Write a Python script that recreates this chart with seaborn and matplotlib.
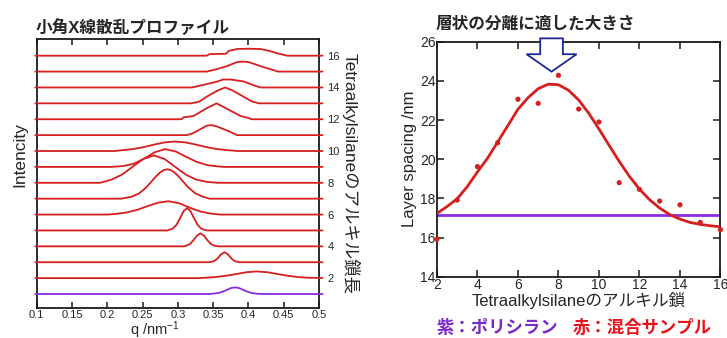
import matplotlib
matplotlib.use("Agg")
import matplotlib.pyplot as plt
import matplotlib.patches as patches
import seaborn as sns
import pandas as pd

# SAXS profiles: q knots and peak heights above each baseline (baseline = chain length)
c01_q = [0.098, 0.345, 0.357, 0.363, 0.369, 0.375, 0.381, 0.387, 0.393, 0.399, 0.405, 0.411, 0.420, 0.505]
c01_i = [0, 0, 0.06, 0.14, 0.25, 0.37, 0.42, 0.37, 0.25, 0.14, 0.06, 0.02, 0, 0]
c02_q = [0.098, 0.330, 0.337, 0.352, 0.367, 0.382, 0.397, 0.412, 0.427, 0.442, 0.457, 0.472, 0.487, 0.505]
c02_i = [0, 0, 0.02, 0.06, 0.14, 0.25, 0.37, 0.42, 0.37, 0.25, 0.14, 0.06, 0.02, 0.01]
c03_q = [0.098, 0.344, 0.351, 0.356, 0.361, 0.366, 0.371, 0.376, 0.381, 0.388, 0.505]
c03_i = [0, 0, 0.06, 0.23, 0.49, 0.63, 0.49, 0.23, 0.06, 0, 0]
c04_q = [0.098, 0.308, 0.312, 0.317, 0.322, 0.327, 0.332, 0.337, 0.342, 0.347, 0.352, 0.358, 0.505]
c04_i = [0, 0, 0.04, 0.14, 0.38, 0.67, 0.82, 0.67, 0.38, 0.14, 0.04, 0, 0]
c05_q = [0.098, 0.285, 0.293, 0.298, 0.303, 0.308, 0.313, 0.318, 0.323, 0.328, 0.333, 0.338, 0.342, 0.505]
c05_i = [0, 0, 0.12, 0.35, 0.76, 1.21, 1.41, 1.21, 0.76, 0.35, 0.12, 0.03, 0, 0]
c06_q = [0.098, 0.200, 0.212, 0.227, 0.242, 0.257, 0.272, 0.287, 0.302, 0.317, 0.332, 0.347, 0.360, 0.505]
c06_i = [0, 0, 0.04, 0.13, 0.29, 0.53, 0.75, 0.84, 0.71, 0.43, 0.19, 0.06, 0, 0]
c07_q = [0.098, 0.220, 0.235, 0.245, 0.255, 0.265, 0.270, 0.275, 0.280, 0.285, 0.290,
         0.295, 0.300, 0.305, 0.315, 0.325, 0.335, 0.345, 0.505]
c07_i = [0, 0, 0.13, 0.33, 0.70, 1.20, 1.45, 1.66, 1.80, 1.85, 1.80,
         1.66, 1.45, 1.20, 0.70, 0.33, 0.13, 0, 0]
c08_q = [0.098, 0.190, 0.206, 0.221, 0.236, 0.251, 0.266, 0.281, 0.296, 0.311, 0.326, 0.341, 0.356, 0.505]
c08_i = [0, 0, 0.20, 0.52, 1.01, 1.50, 1.72, 1.50, 1.01, 0.52, 0.20, 0.06, 0, 0]
c09_q = [0.098, 0.205, 0.222, 0.237, 0.252, 0.267, 0.282, 0.297, 0.312, 0.327, 0.342, 0.357, 0.365, 0.505]
c09_i = [0, 0, 0.05, 0.19, 0.51, 0.92, 1.12, 0.97, 0.63, 0.31, 0.11, 0.03, 0, 0]
c10_q = [0.098, 0.210, 0.221, 0.236, 0.251, 0.266, 0.281, 0.296, 0.311, 0.326, 0.341, 0.356, 0.371, 0.385, 0.505]
c10_i = [0, 0, 0.05, 0.12, 0.24, 0.40, 0.54, 0.60, 0.54, 0.40, 0.24, 0.12, 0.05, 0, 0]
c11_q = [0.098, 0.313, 0.322, 0.335, 0.341, 0.348, 0.355, 0.372, 0.384, 0.505]
c11_i = [0, 0, 0.13, 0.45, 0.60, 0.63, 0.55, 0.25, 0, 0]
c12_q = [0.098, 0.305, 0.308, 0.322, 0.341, 0.355, 0.374, 0.389, 0.400, 0.404, 0.505]
c12_i = [0, 0, 0.12, 0.20, 0.70, 1.00, 0.55, 0.20, 0.08, 0, 0]
c13_q = [0.098, 0.318, 0.330, 0.341, 0.356, 0.367, 0.378, 0.393, 0.405, 0.415, 0.505]
c13_i = [0, 0, 0.10, 0.42, 0.80, 1.00, 0.80, 0.42, 0.12, 0, 0]
c14_q = [0.098, 0.320, 0.337, 0.355, 0.364, 0.375, 0.393, 0.410, 0.417, 0.505]
c14_i = [0, 0, 0.17, 0.36, 0.50, 0.50, 0.38, 0.10, 0, 0]
c15_q = [0.098, 0.341, 0.355, 0.370, 0.384, 0.392, 0.400, 0.420, 0.438, 0.441, 0.505]
c15_i = [0, 0, 0.15, 0.35, 0.60, 0.63, 0.60, 0.30, 0.06, 0, 0]
c16_q = [0.098, 0.341, 0.345, 0.368, 0.372, 0.384, 0.400, 0.417, 0.430, 0.441, 0.455, 0.505]
c16_i = [0, 0, 0.10, 0.12, 0.30, 0.42, 0.44, 0.42, 0.30, 0.15, 0, 0]

q_ticks = [0.1, 0.15, 0.2, 0.25, 0.3, 0.35, 0.4, 0.45, 0.5]
q_ticklabels = ["0.1", "0.15", "0.2", "0.25", "0.3", "0.35", "0.4", "0.45", "0.5"]
chain_ticks = [2, 4, 6, 8, 10, 12, 14, 16]

# layer spacing vs chain length
chain_len = [2, 3, 4, 5, 6, 7, 8, 9, 10, 11, 12, 13, 14, 15, 16]
spacing = [15.92, 17.91, 19.62, 20.84, 23.06, 22.85, 24.28, 22.56, 21.9,
           18.8, 18.46, 17.86, 17.67, 16.77, 16.4]
fit_x = [2.0, 2.5, 3.0, 3.5, 4.0, 4.5, 5.0, 5.5, 6.0, 6.5, 7.0, 7.5, 8.0, 8.5, 9.0,
         9.5, 10.0, 10.5, 11.0, 11.5, 12.0, 12.5, 13.0, 13.5, 14.0, 14.5, 15.0, 15.5, 16.0]
fit_y = [17.23, 17.58, 17.98, 18.6, 19.35, 20.05, 20.88, 21.71, 22.55, 23.14, 23.6, 23.83,
         23.8, 23.52, 23.02, 22.34, 21.54, 20.71, 19.89, 19.13, 18.47, 17.93, 17.5, 17.17,
         16.94, 16.77, 16.67, 16.6, 16.55]
polysilane_spacing = 17.15
best_chain = 7.66

RED = '#d81e1e'
PURPLE = '#8a2be2'

sns.set_theme(style="white")
plt.rcParams['font.family'] = ['Liberation Sans', 'Noto Sans CJK JP']
plt.rcParams['mathtext.fontset'] = 'custom'
plt.rcParams['mathtext.rm'] = 'Liberation Sans'
plt.rcParams['mathtext.default'] = 'regular'

fig = plt.figure(figsize=(7.27, 3.38), dpi=100)
ax1 = fig.add_axes([0.0505, 0.0902, 0.3883, 0.7944])
ax2 = fig.add_axes([0.601, 0.1814, 0.390, 0.6953])

# left panel: stacked profiles
traces = [(c01_q, c01_i), (c02_q, c02_i), (c03_q, c03_i), (c04_q, c04_i),
          (c05_q, c05_i), (c06_q, c06_i), (c07_q, c07_i), (c08_q, c08_i),
          (c09_q, c09_i), (c10_q, c10_i), (c11_q, c11_i), (c12_q, c12_i),
          (c13_q, c13_i), (c14_q, c14_i), (c15_q, c15_i), (c16_q, c16_i)]
for n, (q, inten) in enumerate(traces, start=1):
    df = pd.DataFrame({'q': q, 'I': [v + n for v in inten]})
    col = PURPLE if n == 1 else RED
    sns.lineplot(data=df, x='q', y='I', ax=ax1, color=col, lw=1.3,
                 estimator=None, sort=False, clip_on=False, zorder=3)

ax1.set_xlim(0.1, 0.5)
ax1.set_ylim(0.15, 17.05)
ax1.set_xticks(q_ticks)
ax1.set_xticklabels(q_ticklabels, fontsize=8)
ax1.yaxis.tick_right()
ax1.set_yticks(chain_ticks)
ax1.set_yticklabels([str(t) for t in chain_ticks], fontsize=8)
ax1.tick_params(axis='x', which='both', direction='in', length=4, width=1.1,
                top=True, bottom=True, pad=2, color='k')
ax1.tick_params(axis='y', length=0, pad=6, right=True, left=False)
ax1.set_xlabel(r'q /nm$^{-1}$', fontsize=10.5)
ax1.xaxis.set_label_coords(0.42, -0.043)
ax1.set_ylabel('')
ax1.text(1.111, 0.5, 'Tetraalkylsilaneのアルキル鎖長', transform=ax1.transAxes,
         rotation=270, ha='center', va='center', fontsize=12.5)
ax1.text(-0.06, 0.57, 'Intencity', transform=ax1.transAxes, rotation=90,
         ha='center', va='center', fontsize=12.5)
for s in ax1.spines.values():
    s.set_color('k')
    s.set_linewidth(1.3)

# right panel: layer spacing
ax2.axhline(polysilane_spacing, color=PURPLE, lw=2, zorder=2)
sns.lineplot(x=fit_x, y=fit_y, ax=ax2, color=RED, lw=2, estimator=None,
             sort=False, zorder=3)
sns.scatterplot(x=chain_len, y=spacing, ax=ax2, color=RED, s=14,
                edgecolor='none', zorder=4, clip_on=False)
ax2.set_xlim(2, 16)
ax2.set_ylim(14, 26)
ax2.set_xticks([2, 4, 6, 8, 10, 12, 14, 16])
ax2.set_yticks([14, 16, 18, 20, 22, 24, 26])
ax2.tick_params(direction='in', length=5, width=1.1, top=True, right=True,
                bottom=True, left=True, labelsize=10, pad=1, color='k')
ax2.set_xlabel('Tetraalkylsilaneのアルキル鎖', fontsize=12, labelpad=0)
ax2.set_ylabel('Layer spacing /nm', fontsize=12, labelpad=2)
for s in ax2.spines.values():
    s.set_color('k')
    s.set_linewidth(1.3)

arrow = patches.FancyArrow(best_chain, 26.17, 0, -1.7, width=1.12, head_width=2.47,
                           head_length=0.89, length_includes_head=True,
                           facecolor='white', edgecolor='#1c2a8c', lw=1.3,
                           clip_on=False, zorder=6)
ax2.add_patch(arrow)

# titles and legend text
fig.text(0.183, 0.919, '小角X線散乱プロファイル', fontsize=12, fontweight='bold',
         ha='center', va='center')
fig.text(0.736, 0.930, '層状の分離に適した大きさ', fontsize=12, fontweight='bold',
         ha='center', va='center')
fig.text(0.6007, 0.032, '紫：ポリシラン', fontsize=12.5, fontweight='bold',
         color='#7a28c8', ha='left', va='center')
fig.text(0.788, 0.032, '赤：混合サンプル', fontsize=12.5, fontweight='bold',
         color='#e8141a', ha='left', va='center')

fig.savefig('out.png', dpi=100)
